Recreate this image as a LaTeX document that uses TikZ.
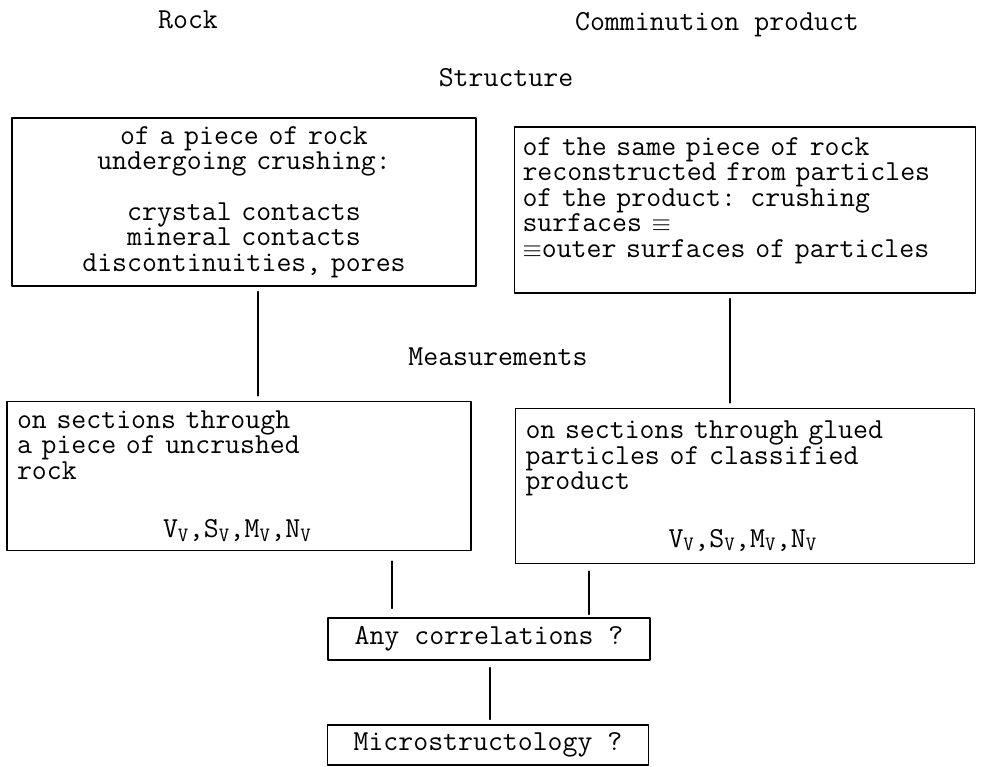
\documentclass[tikz,border=0pt]{standalone}
\usepackage{fontspec}
\usetikzlibrary{positioning}
\begin{document}
\begin{tikzpicture}[x=1pt, y=-1pt, line join=round, line cap=round,
  font=\ttfamily\fontsize{29}{25.5}\selectfont,
  box/.style={draw, line width=1.3pt, inner xsep=8pt, inner ysep=0pt},
  link/.style={line width=1.3pt, shorten <=5pt, shorten >=5pt}]
  \useasboundingbox (0,0) rectangle (981,767);
  % headings
  \node (rock) at (188,20) {Rock};
  \node (product) at (717,25) {Comminution product};
  \node (structure) at (506,78) {Structure};
  \node (measure) at (498,357) {Measurements};
  % structure boxes
  \node[box, text width=448pt, minimum height=168pt, align=center] (rockbox) at (244,202)
    {of a piece of rock\\undergoing crushing:\\[25pt]crystal contacts\\mineral contacts\\discontinuities, pores};
  \node[box, text width=445pt, minimum height=166pt, align=left, inner xsep=8pt] (prodbox) at (745,210)
    {of the same piece of rock\\reconstructed from particles\\of the product: crushing\\surfaces $\equiv$\\$\equiv$outer surfaces of particles\\ \mbox{}};
  % measurement boxes
  \node[box, text width=444pt, minimum height=149pt, align=left, inner xsep=10pt] (uncrushed) at (239,476)
    {on sections through\\a piece of uncrushed\\rock\\[33pt]\hspace*{146pt}V\textsubscript{V},S\textsubscript{V},M\textsubscript{V},N\textsubscript{V}};
  \node[box, text width=439pt, minimum height=155pt, align=left, inner xsep=10pt] (glued) at (745,486)
    {on sections through glued\\particles of classified\\product\\[32pt]\hspace*{143pt}V\textsubscript{V},S\textsubscript{V},M\textsubscript{V},N\textsubscript{V}};
  % final questions
  \node[box, minimum width=322pt, minimum height=42pt] (corr) at (489,639) {Any correlations ?};
  \node[box, minimum width=321pt, minimum height=40pt] (micro) at (488,745) {Microstructology ?};
  % connectors
  \draw[link] ([xshift=14pt]rockbox.south) -- ([xshift=14pt]rockbox.south |- uncrushed.north);
  \draw[link] ([xshift=-15pt]prodbox.south) -- ([xshift=-15pt]prodbox.south |- glued.north);
  \draw[link, shorten <=10pt, shorten >=9pt] ([xshift=153pt]uncrushed.south) -- ([xshift=153pt]uncrushed.south |- corr.north);
  \draw[link, shorten <=7pt, shorten >=3pt] ([xshift=-156pt]glued.south) -- ([xshift=-156pt]glued.south |- corr.north);
  \draw[link, shorten <=7pt] ([xshift=1pt]corr.south) -- ([xshift=1pt]corr.south |- micro.north);
\end{tikzpicture}
\end{document}
